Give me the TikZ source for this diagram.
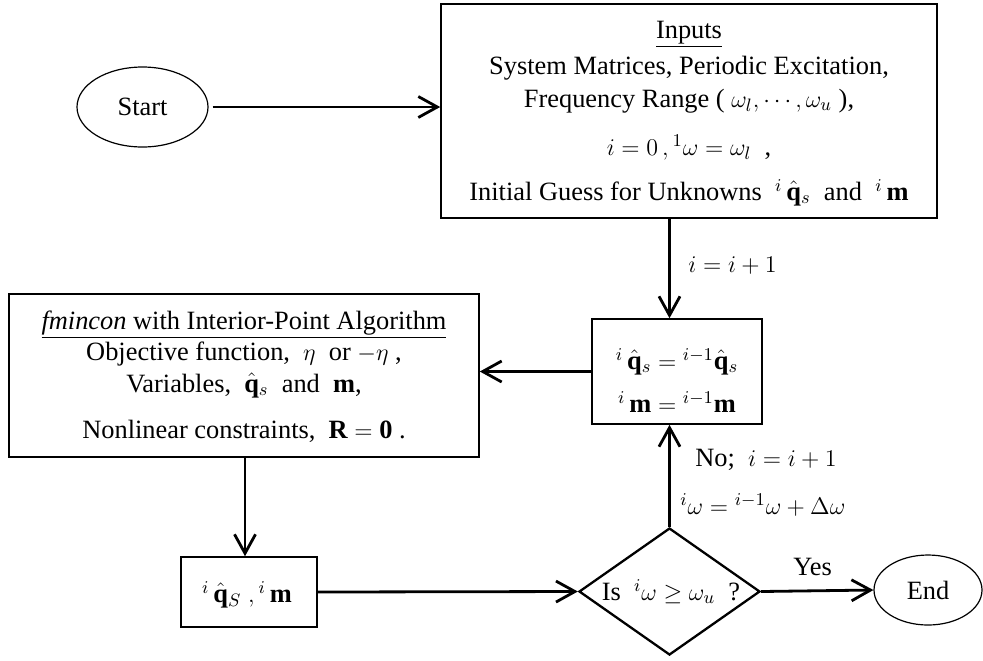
\documentclass[tikz,border=0pt]{standalone}
\usepackage{fontspec}
\setmainfont{Liberation Serif}
\usetikzlibrary{shapes.geometric,arrows.meta}

\tikzset{
  box/.style={draw, rectangle, line width=0.8pt, inner sep=0pt},
  term/.style={draw, ellipse, line width=0.6pt, inner sep=0pt},
  decision/.style={draw, diamond, line width=1.15pt, inner sep=0pt, aspect=1.425},
  flow/.style={line width=1.4pt, -{Straight Barb[length=9.5pt,width=10.5pt]}},
  txt/.style={inner sep=0pt, anchor=base},
  lbl/.style={inner sep=0pt, anchor=base west},
}

\begin{document}
\begin{tikzpicture}[x=0.5pt, y=-0.5pt, font=\fontsize{13.2}{15}\selectfont]
\useasboundingbox (0,0) rectangle (983,660);

% terminals
\node[term, minimum width=65.5pt, minimum height=40pt] (start) at (142.5,107) {Start};
\node[term, minimum width=54pt, minimum height=35pt] (stop) at (928,590) {End};

% input block
\node[box, minimum width=248pt, minimum height=107pt] (inputs) at (689,111) {};
\node[txt] (in1) at (689,38) {\underline{Inputs}};
\node[txt] (in2) at (689,74) {System Matrices, Periodic Excitation,};
\node[txt] (in3) at (689,107) {Frequency Range ( $\omega_l ,\cdots, \omega_u$ ),};
\node[txt] (in4) at (689,155) {$i=0\,,{}^{1}\omega=\omega_l$ \ ,};
\node[txt] (in5) at (689,200) {Initial Guess for Unknowns \ ${}^{i}\,\hat{\mathbf{q}}_{s}$ \ and \ ${}^{i}\,\mathbf{m}$};

% update block
\node[box, minimum width=85pt, minimum height=52.5pt] (upd) at (677,371.5) {};
\node[txt] (up1) at (677,369) {${}^{i}\,\hat{\mathbf{q}}_{s} = {}^{i-1}\hat{\mathbf{q}}_{s}$};
\node[txt] (up2) at (677,412) {${}^{i}\,\mathbf{m} = {}^{i-1}\mathbf{m}$};

% optimiser block
\node[box, minimum width=235pt, minimum height=81.5pt] (opt) at (244,375.5) {};
\node[txt] (op1) at (244,329) {\underline{\textit{fmincon} with Interior-Point Algorithm}};
\node[txt] (op2) at (244,360) {Objective function, \ $\eta$ \ or $-\eta$ ,};
\node[txt] (op3) at (244,392) {Variables, \ $\hat{\mathbf{q}}_{s}$ \ and \ $\mathbf{m}$,};
\node[txt] (op4) at (244,438) {Nonlinear constraints, \ $\mathbf{R}=\mathbf{0}$ .};

% result block
\node[box, minimum width=68pt, minimum height=35pt] (res) at (249,592) {};
\node[txt] (rs1) at (247,602) {${}^{i}\,\hat{\mathbf{q}}_{S}\ ,{}^{i}\,\mathbf{m}$};

% decision
\node[decision, minimum width=90.5pt, minimum height=63.5pt] (dec) at (669.5,591.5) {};
\node[txt] (dq) at (671,600) {Is \ ${}^{i}\omega\geq\omega_u$ \ ?};

% connector labels
\node[lbl] (l1) at (688,272) {$i=i+1$};
\node[lbl] (l2) at (695,466) {No; \ $i=i+1$};
\node[lbl] (l3) at (680,514) {${}^{i}\omega={}^{i-1}\omega+\Delta\omega$};
\node[lbl] (l4) at (793,575) {Yes};

% connectors
\draw[flow, shorten <=2pt] (start.east) -- (start.east -| inputs.west);
\draw[flow] (inputs.south -| dec.north) -- (upd.north -| dec.north);
\draw[flow] (upd.west) -- (upd.west -| opt.east);
\draw[flow] ([xshift=-2pt]res.north |- opt.south) -- ([xshift=-2pt]res.north);
\draw[flow] (res.east) -- (dec.west);
\draw[flow] (dec.north) -- (dec.north |- upd.south);
\draw[flow] (dec.east) -- (stop.west);
\end{tikzpicture}
\end{document}
